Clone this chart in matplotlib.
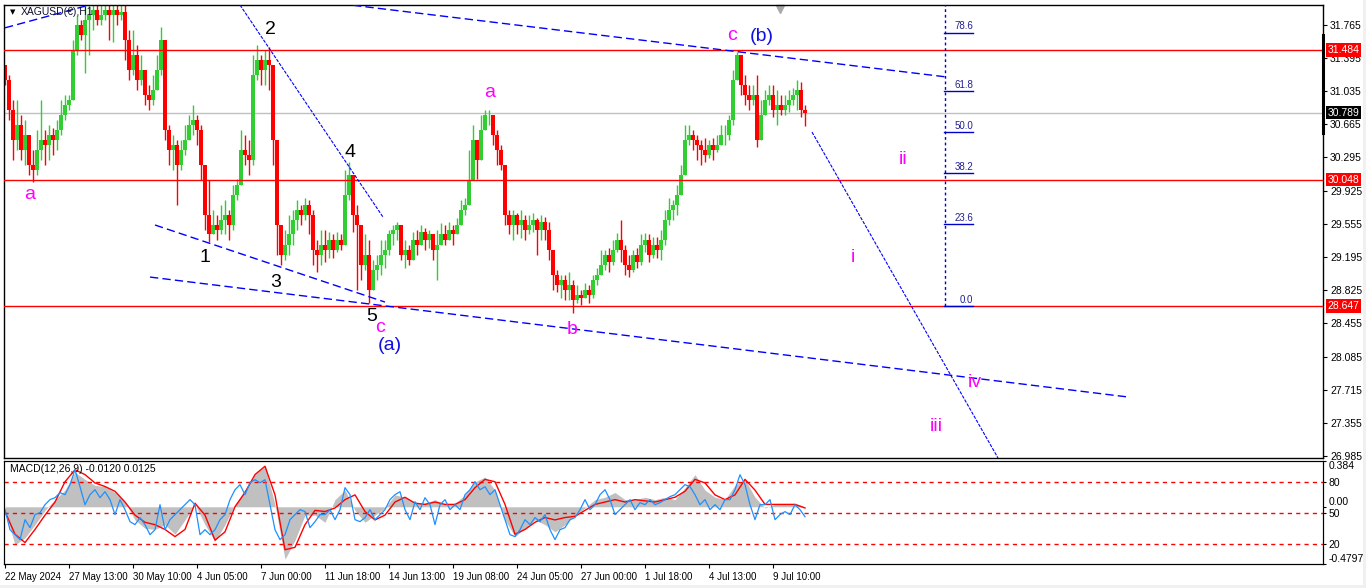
import numpy as np
import matplotlib.pyplot as plt
import matplotlib.transforms as mtransforms
from matplotlib.patches import Rectangle

plt.rcParams['font.family'] = ['Liberation Sans', 'DejaVu Sans']

# XAGUSD H1 candles (bar 0 = 22 May 2024)
first_open = 31.32
closes = [
    31.15, 30.82, 30.49, 30.65, 30.38, 30.54, 30.21, 30.15, 30.38, 30.49,
    30.43, 30.54, 30.49, 30.60, 30.76, 30.87, 30.93, 31.48, 31.76, 31.65,
    31.82, 31.87, 31.93, 31.82, 31.87, 31.93, 31.87, 31.93, 31.87, 31.91,
    31.60, 31.26, 31.43, 31.15, 31.26, 30.99, 30.93, 31.04, 31.26, 31.60,
    30.60, 30.38, 30.43, 30.21, 30.38, 30.49, 30.65, 30.71, 30.60, 30.21,
    29.66, 29.44, 29.55, 29.49, 29.60, 29.66, 29.55, 29.88, 29.99, 30.38,
    30.32, 30.27, 31.21, 31.37, 31.26, 31.37, 31.32, 30.49, 29.55, 29.21,
    29.32, 29.44, 29.60, 29.71, 29.66, 29.77, 29.66, 29.27, 29.21, 29.32,
    29.27, 29.38, 29.27, 29.38, 29.32, 29.88, 30.10, 29.66, 29.55, 29.10,
    29.21, 28.82, 29.05, 29.10, 29.21, 29.27, 29.44, 29.49, 29.55, 29.21,
    29.27, 29.16, 29.38, 29.32, 29.47, 29.38, 29.44, 29.27, 29.32, 29.44,
    29.38, 29.49, 29.44, 29.55, 29.71, 29.77, 30.04, 30.49, 30.27, 30.60,
    30.76, 30.76, 30.54, 30.38, 30.21, 29.66, 29.55, 29.66, 29.55, 29.60,
    29.49, 29.55, 29.60, 29.49, 29.58, 29.49, 29.27, 28.99, 28.88, 28.94,
    28.82, 28.88, 28.71, 28.77, 28.74, 28.82, 28.77, 28.94, 28.99, 29.10,
    29.21, 29.14, 29.27, 29.38, 29.27, 29.10, 29.05, 29.21, 29.14, 29.32,
    29.38, 29.21, 29.32, 29.27, 29.38, 29.60, 29.71, 29.77, 29.88, 30.10,
    30.49, 30.54, 30.49, 30.43, 30.38, 30.32, 30.43, 30.38, 30.43, 30.54,
    30.54, 30.71, 31.15, 31.43, 31.10, 30.99, 30.93, 30.99, 30.49, 30.76,
    30.93, 30.99, 30.82, 30.87, 30.82, 30.87, 30.93, 30.99, 31.04, 30.82, 30.79,
]
highs = [
    31.32, 31.21, 30.93, 30.93, 30.76, 30.71, 30.49, 30.38, 30.60, 30.93,
    30.60, 30.65, 30.62, 30.71, 30.93, 30.99, 30.99, 31.60, 31.87, 31.82,
    32.02, 32.02, 32.02, 32.02, 32.02, 32.02, 32.02, 32.02, 32.02, 32.02,
    32.02, 31.71, 31.71, 31.54, 31.43, 31.26, 31.10, 31.21, 31.43, 31.74,
    31.43, 30.65, 30.54, 30.49, 30.49, 30.65, 30.76, 30.87, 30.76, 30.65,
    30.04, 30.04, 29.71, 29.66, 29.77, 29.82, 29.71, 29.99, 30.06, 30.60,
    30.54, 30.49, 31.43, 31.54, 31.43, 31.48, 31.52, 31.26, 30.38, 29.49,
    29.49, 29.66, 29.71, 29.82, 29.77, 29.84, 29.82, 29.71, 29.38, 29.49,
    29.49, 29.47, 29.44, 29.47, 29.44, 30.15, 30.24, 30.04, 29.77, 29.44,
    29.44, 29.38, 29.16, 29.21, 29.38, 29.38, 29.49, 29.55, 29.58, 29.44,
    29.38, 29.32, 29.47, 29.49, 29.55, 29.51, 29.49, 29.44, 29.49, 29.57,
    29.55, 29.58, 29.55, 29.62, 29.82, 29.84, 30.38, 30.65, 30.49, 30.76,
    30.82, 30.82, 30.71, 30.60, 30.43, 30.21, 29.71, 29.71, 29.68, 29.71,
    29.66, 29.66, 29.68, 29.62, 29.66, 29.63, 29.58, 29.21, 29.05, 28.99,
    28.99, 29.02, 28.94, 28.88, 28.82, 28.90, 28.88, 28.99, 29.07, 29.27,
    29.27, 29.29, 29.38, 29.46, 29.60, 29.32, 29.21, 29.27, 29.29, 29.44,
    29.46, 29.44, 29.41, 29.41, 29.49, 29.71, 29.84, 29.82, 29.99, 30.21,
    30.65, 30.65, 30.60, 30.54, 30.49, 30.51, 30.49, 30.51, 30.54, 30.65,
    30.65, 30.76, 31.26, 31.46, 31.37, 31.21, 31.10, 31.10, 31.21, 30.93,
    31.04, 31.10, 31.10, 31.04, 30.99, 30.99, 31.04, 31.06, 31.15, 31.13, 30.87,
]
lows = [
    31.10, 30.71, 30.27, 30.38, 30.27, 30.21, 30.10, 30.02, 30.10, 30.27,
    30.21, 30.27, 30.32, 30.38, 30.54, 30.71, 30.82, 30.93, 31.43, 31.60,
    31.23, 31.43, 31.71, 31.76, 31.76, 31.82, 31.60, 31.57, 31.76, 31.82,
    31.37, 31.15, 31.21, 31.04, 31.10, 30.87, 30.82, 30.87, 31.15, 31.21,
    30.49, 30.21, 30.15, 29.77, 30.15, 30.32, 30.49, 30.54, 30.43, 30.04,
    29.49, 29.36, 29.44, 29.38, 29.44, 29.44, 29.38, 29.49, 29.82, 30.27,
    30.21, 30.10, 30.21, 31.15, 31.10, 31.10, 31.04, 30.21, 29.21, 29.10,
    29.16, 29.21, 29.32, 29.49, 29.55, 29.60, 29.44, 29.10, 29.02, 29.10,
    29.14, 29.18, 29.18, 29.25, 29.27, 29.32, 29.82, 29.47, 28.82, 28.94,
    29.05, 28.68, 28.88, 28.94, 28.99, 29.07, 29.21, 29.32, 29.38, 29.16,
    29.07, 29.10, 29.18, 29.21, 29.32, 29.27, 29.29, 29.16, 28.94, 29.32,
    29.32, 29.38, 29.32, 29.44, 29.55, 29.66, 29.77, 30.21, 30.06, 30.38,
    30.60, 30.65, 30.43, 30.21, 30.15, 29.55, 29.44, 29.38, 29.44, 29.40,
    29.38, 29.44, 29.47, 29.21, 29.38, 29.38, 29.16, 28.82, 28.80, 28.74,
    28.71, 28.71, 28.57, 28.68, 28.66, 28.74, 28.68, 28.74, 28.88, 28.99,
    29.05, 29.02, 29.10, 29.25, 29.14, 28.99, 28.97, 29.02, 29.07, 29.10,
    29.25, 29.14, 29.18, 29.18, 29.16, 29.32, 29.55, 29.60, 29.66, 29.93,
    30.15, 30.43, 30.38, 30.27, 30.21, 30.24, 30.29, 30.27, 30.35, 30.43,
    30.43, 30.49, 30.65, 31.15, 30.99, 30.87, 30.82, 30.87, 30.41, 30.54,
    30.76, 30.87, 30.74, 30.65, 30.76, 30.76, 30.80, 30.87, 30.82, 30.74, 30.64,
]

# MACD(12,26,9) panel: grey main, red signal (sampled every 2.5 bars)
macd_main = [
    -0.03, -0.32, -0.26, -0.15, -0.03, 0.06, 0.14, 0.29, 0.23, 0.18,
    0.17, 0.12, 0.04, -0.11, -0.18, -0.19, -0.15, -0.23, -0.11, 0.02,
    -0.15, -0.29, -0.15, 0.02, 0.14, 0.27, 0.34, 0.02, -0.44, -0.28,
    -0.07, -0.07, -0.13, 0.06, 0.14, -0.03, -0.13, -0.07, -0.01, 0.10,
    0.08, 0.04, 0.03, 0.06, 0.02, 0.03, 0.10, 0.21, 0.25, 0.14,
    -0.11, -0.25, -0.18, -0.11, -0.15, -0.21, -0.15, -0.07, -0.01, 0.06,
    0.08, 0.12, 0.06, 0.06, 0.08, 0.06, 0.08, 0.06, 0.16, 0.27,
    0.14, 0.08, 0.06, 0.18, 0.23, 0.08, -0.01, 0.02, 0.02, 0.03, 0.00,
]
macd_signal = [
    -0.04, -0.23, -0.30, -0.19, -0.07, 0.04, 0.21, 0.31, 0.27, 0.20,
    0.17, 0.13, 0.04, -0.07, -0.13, -0.15, -0.19, -0.25, -0.19, 0.03,
    -0.07, -0.28, -0.21, 0.00, 0.12, 0.27, 0.34, 0.10, -0.36, -0.34,
    -0.15, -0.03, -0.04, -0.01, 0.06, 0.10, -0.04, -0.11, -0.07, 0.04,
    0.08, 0.03, 0.02, 0.04, 0.02, 0.02, 0.06, 0.16, 0.23, 0.21,
    0.02, -0.23, -0.19, -0.13, -0.09, -0.11, -0.09, -0.08, -0.03, 0.02,
    0.04, 0.06, 0.04, 0.06, 0.05, 0.04, 0.06, 0.08, 0.13, 0.23,
    0.20, 0.10, 0.06, 0.10, 0.23, 0.14, 0.02, 0.02, 0.02, 0.02, -0.01,
]
# blue oscillator on 0-100 scale (sampled every 1.25 bars)
osc = [
    53.2, 33.8, 29.0, 24.2, 43.5, 35.8, 48.4, 50.3, 58.0, 62.9,
    64.8, 69.6, 67.7, 77.4, 91.9, 75.4, 58.0, 67.7, 72.5, 64.8,
    70.6, 62.9, 48.4, 62.9, 53.2, 41.6, 38.7, 45.5, 38.7, 29.0,
    33.8, 58.0, 33.8, 43.5, 48.4, 53.2, 58.0, 62.9, 58.0, 29.0,
    33.8, 29.0, 33.8, 43.5, 48.4, 62.9, 72.5, 77.4, 67.7, 79.3,
    82.2, 79.3, 82.2, 58.0, 33.8, 24.2, 29.0, 43.5, 48.4, 53.2,
    51.3, 35.8, 41.6, 48.4, 48.4, 53.2, 43.5, 53.2, 74.5, 67.7,
    43.5, 41.6, 45.5, 53.2, 43.5, 48.4, 53.2, 62.9, 67.7, 70.6,
    53.2, 43.5, 60.9, 53.2, 64.8, 58.0, 38.7, 58.0, 62.9, 53.2,
    58.0, 53.2, 67.7, 72.5, 80.3, 72.5, 75.4, 67.7, 72.5, 58.0,
    43.5, 29.0, 27.1, 33.8, 43.5, 38.7, 45.5, 41.6, 48.4, 33.8,
    24.2, 33.8, 35.8, 43.5, 45.5, 53.2, 62.9, 53.2, 58.0, 67.7,
    72.5, 62.9, 48.4, 53.2, 58.0, 62.9, 53.2, 60.0, 58.0, 62.9,
    58.0, 60.0, 62.9, 65.8, 67.7, 72.5, 77.4, 75.4, 67.7, 58.0,
    62.9, 53.2, 58.0, 53.2, 62.9, 62.9, 72.5, 87.0, 77.4, 58.0,
    43.5, 58.0, 58.0, 62.9, 43.5, 48.4, 51.3, 48.4, 58.0, 53.2, 46.4,
]
osc_levels = [80, 50, 20]

time_labels = ['22 May 2024', '27 May 13:00', '30 May 10:00', '4 Jun 05:00',
               '7 Jun 00:00', '11 Jun 18:00', '14 Jun 13:00', '19 Jun 08:00',
               '24 Jun 05:00', '27 Jun 00:00', '1 Jul 18:00', '4 Jul 13:00',
               '9 Jul 10:00']
price_ticks = [31.765, 31.395, 31.035, 30.665, 30.295, 29.925, 29.555,
               29.195, 28.825, 28.455, 28.085, 27.715, 27.355, 26.985]
red_levels = [31.484, 30.048, 28.647]
last_price = 30.789

fib_low, fib_high = 28.647, 32.503
fib_ratios = [0.0, 23.6, 38.2, 50.0, 61.8, 78.6]

# trendlines: (bar, price) -> (bar, price), style
trendlines = [
    ((0.0, 31.73), (25.0, 32.03), 'dash'),
    ((87.0, 31.98), (235.5, 31.185), 'dash'),
    ((36.25, 28.968), (280.75, 27.639), 'dash'),
    ((37.5, 29.545), (95.0, 28.691), 'dash'),
    ((58.75, 31.983), (94.5, 29.633), 'dot'),
    ((201.75, 30.575), (248.25, 26.963), 'dot'),
]

# Elliott wave labels: text, bar, price, colour
MAG, BLU = '#FF00FF', '#1010E0'
wave_labels = [
    ('a', 6.25, 29.88, MAG), ('1', 50.0, 29.19, 'black'),
    ('2', 66.25, 31.71, 'black'), ('3', 67.75, 28.91, 'black'),
    ('4', 86.25, 30.35, 'black'), ('5', 91.75, 28.53, 'black'),
    ('c', 93.75, 28.41, MAG), ('(a)', 96.25, 28.21, BLU),
    ('a', 121.25, 31.01, MAG), ('b', 141.75, 28.39, MAG),
    ('c', 181.75, 31.64, MAG), ('(b)', 189.25, 31.63, BLU),
    ('ii', 224.5, 30.27, MAG), ('i', 212.0, 29.18, MAG),
    ('iv', 242.5, 27.80, MAG), ('iii', 232.75, 27.31, MAG),
]

W, H = 1366, 588
fig = plt.figure(figsize=(W / 100, H / 100), dpi=100)
fig.patch.set_facecolor('white')
fig.add_artist(Rectangle((0, 0), 1, 3 / H, transform=fig.transFigure, color='#F0F0F0', lw=0))
fig.add_artist(Rectangle((1363 / W, 0), 3 / W, 1, transform=fig.transFigure, color='#F0F0F0', lw=0))

ax = fig.add_axes([4 / W, 1 - 458 / H, 1319 / W, 453 / H])
axm = fig.add_axes([4 / W, 1 - 564 / H, 1319 / W, 103 / H])
xmin, xmax = -0.25, 329.5
ymin, ymax = 26.963, 31.983

# --- candles
c = np.array(closes)
o = np.r_[first_open, c[:-1]]
h = np.maximum(np.array(highs), np.maximum(o, c))
l = np.minimum(np.array(lows), np.minimum(o, c))
x = np.arange(len(c))
cols = np.where(c >= o, '#32CD32', '#FF0000')
ax.vlines(x, l, h, colors=cols, lw=1.0, zorder=2)
ax.bar(x, c - o, bottom=o, width=0.8, color=cols, linewidth=0, zorder=2)

for lv in red_levels:
    ax.axhline(lv, color='#FF0000', lw=1.0, zorder=3)
ax.axhline(last_price, color='#C0C0C0', lw=1.0, zorder=1)

for (b0, p0), (b1, p1), st in trendlines:
    ls = (0, (6, 3)) if st == 'dash' else (0, (3, 1.2))
    lw = 1.0 if st == 'dash' else 0.8
    ax.plot([b0, b1], [p0, p1], color='#0000FF', lw=lw, ls=ls, zorder=4)

# fibonacci retracement
fib_bar0, fib_bar1 = 235.1, 242.0
ax.plot([fib_bar0, fib_bar0], [fib_low, ymax], color='#0000CD', lw=1, ls=(0, (2, 2)), zorder=4)
for r in fib_ratios:
    p = fib_low + (fib_high - fib_low) * r / 100
    ax.plot([fib_bar0 - 0.3, fib_bar1], [p, p], color='#0000CD', lw=1, zorder=4)
    ax.text(fib_bar1, p + 0.015, f'{r:.1f}', color='#202090', fontsize=7,
            ha='right', va='bottom', zorder=5)

for txt, b, p, col in wave_labels:
    ax.text(b, p, txt, color=col, fontsize=14, ha='center', va='center', zorder=6)

ax.set_xlim(xmin, xmax)
ax.set_ylim(ymin, ymax)
ax.set_xticks([])
ax.yaxis.tick_right()
ax.set_yticks(price_ticks)
ax.set_yticklabels([f'{t:.3f}' for t in price_ticks])
ax.tick_params(axis='y', direction='out', length=3, width=0.8, pad=2, labelsize=7.5)
for s in ax.spines.values():
    s.set_linewidth(1.0)

ax.text(0.0125, 0.985, 'XAGUSD(\u20ac),H1', transform=ax.transAxes, fontsize=7.5,
        color='#101030', ha='left', va='center', zorder=7)
ax.text(0.0045, 0.985, '\u25bc', transform=ax.transAxes, fontsize=5,
        color='black', ha='left', va='center', family=['DejaVu Sans'])
trx = mtransforms.blended_transform_factory(ax.transData, ax.transAxes)
ax.plot([193.75], [0.992], marker='v', color='#A8A8A8', ms=6, transform=trx, clip_on=False)
try_y = mtransforms.blended_transform_factory(ax.transAxes, ax.transData)
ax.plot([1.0, 1.0], [30.56, 31.65], color='black', lw=2.2, transform=try_y, clip_on=False, zorder=8)

def price_box(val, fc):
    ax.annotate(f'{val:.3f}', xy=(1.0, val), xycoords=('axes fraction', 'data'),
                xytext=(3.5, 0), textcoords='offset points', ha='left', va='center',
                fontsize=7.5, color='white', zorder=9, annotation_clip=False,
                bbox=dict(boxstyle='square,pad=0.15', fc=fc, ec='none'))

for lv in red_levels:
    price_box(lv, '#FF0000')
price_box(last_price, 'black')

# --- MACD panel
mx = np.arange(len(macd_main)) * 2.5
axm.fill_between(mx, 0, macd_main, color='#C0C0C0', lw=0, zorder=1)
axm.plot(mx, macd_signal, color='#FF0000', lw=1.0, zorder=3)
axm.set_xlim(xmin, xmax)
axm.set_ylim(-0.4797, 0.384)
axs = axm.twinx()
axs.set_ylim(0.6, 100.3)
ox = np.arange(len(osc)) * 1.25
for lv in osc_levels:
    axs.axhline(lv, color='#FF0000', lw=1.0, ls=(0, (3, 3)), zorder=1)
axs.plot(ox, osc, color='#1E90FF', lw=0.9, zorder=2)

axm.yaxis.tick_right()
axm.set_yticks([0.384, 0.0, -0.4797])
axm.set_yticklabels(['0.384', '0.00', '-0.4797'])
tl = axm.get_yticklabels()
tl[0].set_va('top')
tl[1].set_va('bottom')
tl[2].set_va('bottom')
axs.set_yticks(osc_levels)
axs.set_yticklabels([str(v) for v in osc_levels])
for a in (axm, axs):
    a.tick_params(axis='y', direction='out', length=2, width=0.8, pad=2, labelsize=7.5)
axm.set_xticks(np.arange(len(time_labels)) * 16)
axm.set_xticklabels(time_labels, ha='left')
axm.tick_params(axis='x', direction='out', length=3, width=0.8, pad=3, labelsize=7)
axm.text(0.0045, 0.92, 'MACD(12,26,9) -0.0120 0.0125', transform=axm.transAxes,
         fontsize=7.5, ha='left', va='center', zorder=5)

fig.savefig('out.png', dpi=100)
